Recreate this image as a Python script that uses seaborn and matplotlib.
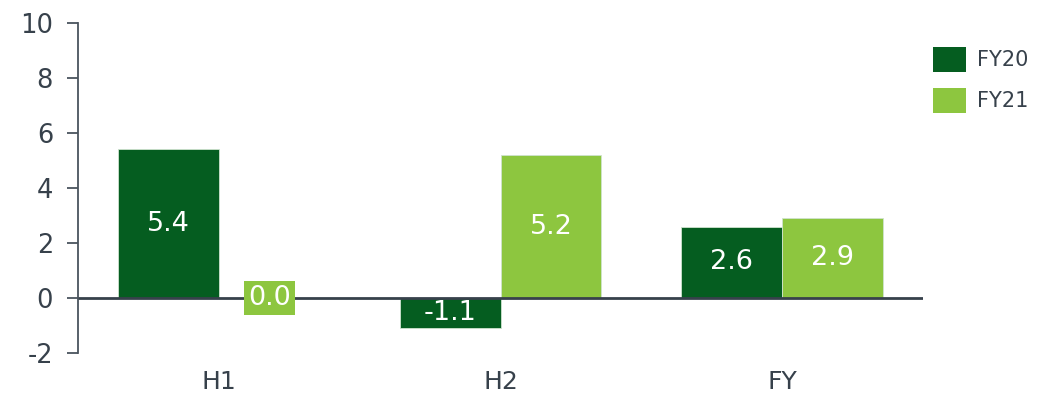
import matplotlib
matplotlib.use("Agg")
import matplotlib.pyplot as plt
import matplotlib.patches as mpatches
import seaborn as sns
import pandas as pd

# Growth by half-year and full year
categories = ["H1", "H2", "FY"]
fy20 = [5.4, -1.1, 2.6]
fy21 = [0.0, 5.2, 2.9]
series = ["FY20", "FY21"]
y_ticks = [-2, 0, 2, 4, 6, 8, 10]

dark_green = "#055D20"
light_green = "#8DC63F"
text_color = "#37414B"

df = pd.DataFrame({
    "period": categories * 2,
    "value": fy20 + fy21,
    "series": [series[0]] * len(categories) + [series[1]] * len(categories),
})

sns.set_style("white")
plt.rcParams["font.family"] = ["DejaVu Sans"]

fig = plt.figure(figsize=(10.53, 3.95), dpi=100)
ax = fig.add_axes([0.0741, 0.1063, 0.8025, 0.8355])

sns.barplot(data=df, x="period", y="value", hue="series", order=categories,
            hue_order=series, palette=[dark_green, light_green], width=0.716,
            gap=0, saturation=1, ax=ax, legend=False, edgecolor="#cfe3cf",
            linewidth=0.6, errorbar=None)

ax.set_xlim(-0.5, 2.5)
ax.set_ylim(-2, 10)
ax.set_yticks(y_ticks)
ax.set_yticklabels([str(t) for t in y_ticks])

# Zero baseline
ax.axhline(0, color=text_color, linewidth=2, zorder=1.5)

for s in ["top", "right", "bottom"]:
    ax.spines[s].set_visible(False)
ax.spines["left"].set_color("#4A545E")
ax.spines["left"].set_linewidth(1.3)

ax.tick_params(axis="y", which="both", left=True, length=8, width=1.3,
               color="#4A545E", labelsize=18.5, labelcolor=text_color, pad=10)
ax.tick_params(axis="x", length=0, labelsize=18, labelcolor=text_color, pad=12)
ax.set_xlabel("")
ax.set_ylabel("")

# Value labels inside the bars
colors = [dark_green, light_green]
for container, col in zip(ax.containers, colors):
    texts = ax.bar_label(container, label_type="center", fmt="%.1f",
                         color="white", fontsize=19.5)
    for t, bar in zip(texts, container):
        if bar.get_height() == 0:
            t.set_bbox(dict(boxstyle="square,pad=0.15", facecolor=col,
                            edgecolor="none"))
            t.set_zorder(3)

handles = [mpatches.Patch(facecolor=c, edgecolor="none", label=s)
           for c, s in zip(colors, series)]
fig.legend(handles=handles, loc="upper left", bbox_to_anchor=(0.878, 0.903),
           frameon=False, fontsize=15, labelcolor=text_color,
           handlelength=1.6, handleheight=1.5, handletextpad=0.5,
           labelspacing=0.75, borderaxespad=0)

fig.savefig("out.png", dpi=100)
